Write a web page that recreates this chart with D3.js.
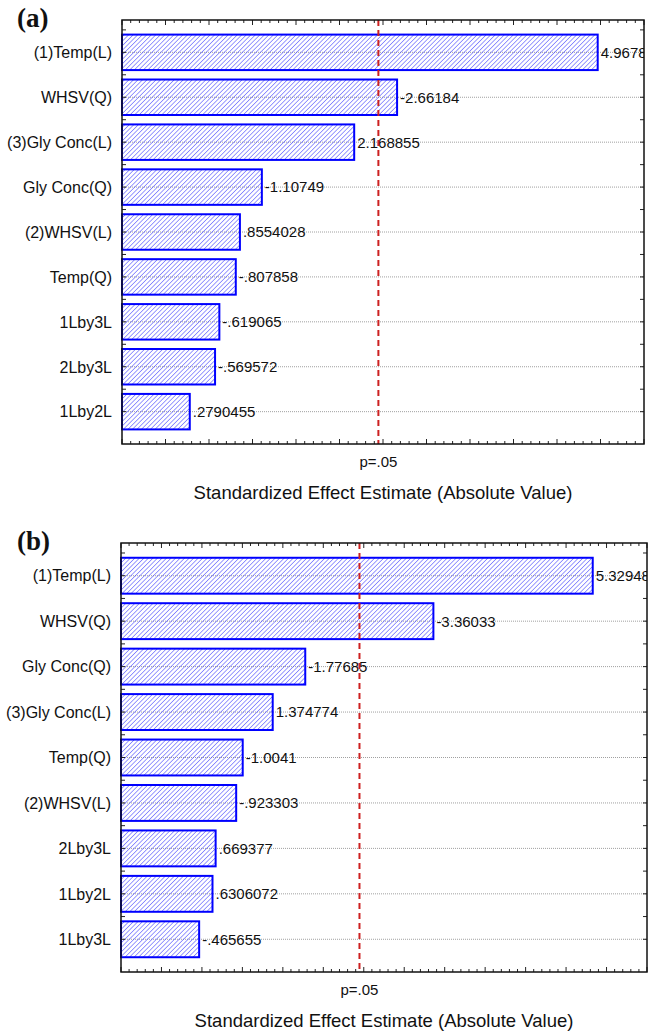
<!DOCTYPE html>
<html>
<head>
<meta charset="utf-8">
<script src="https://cdnjs.cloudflare.com/ajax/libs/d3/7.8.5/d3.min.js"></script>
<style>
  body { margin: 0; background: #fff; }
  svg { display: block; font-family: Arial, "Liberation Sans", sans-serif; }
</style>
</head>
<body>
<div id="chart"></div>
<script>
// ---- data (panel a) ----
var catsA = ["(1)Temp(L)", "WHSV(Q)", "(3)Gly Conc(L)", "Gly Conc(Q)", "(2)WHSV(L)", "Temp(Q)", "1Lby3L", "2Lby3L", "1Lby2L"];
var valsA = [4.96786, 2.66184, 2.168855, 1.10749, 0.8554028, 0.807858, 0.619065, 0.569572, 0.2790455];
var labelsA = ["4.96786", "-2.66184", "2.168855", "-1.10749", ".8554028", "-.807858", "-.619065", "-.569572", ".2790455"];

// ---- data (panel b) ----
var catsB = ["(1)Temp(L)", "WHSV(Q)", "Gly Conc(Q)", "(3)Gly Conc(L)", "Temp(Q)", "(2)WHSV(L)", "2Lby3L", "1Lby2L", "1Lby3L"];
var valsB = [5.32948, 3.36033, 1.77685, 1.374774, 1.0041, 0.923303, 0.669377, 0.6306072, 0.465655];
var labelsB = ["5.32948", "-3.36033", "-1.77685", "1.374774", "-1.0041", "-.923303", ".669377", ".6306072", "-.465655"];

// critical t value for p=.05
var tCrit = 2.447;

var width = 651, height = 1036;

var svg = d3.select('#chart').append('svg')
	.attr('width', width)
	.attr('height', height);

// hatch pattern for the bars
var defs = svg.append('defs');
defs.append('pattern')
	.attr('id', 'hatch')
	.attr('patternUnits', 'userSpaceOnUse')
	.attr('width', 3.2)
	.attr('height', 3.2)
	.attr('patternTransform', 'rotate(45)')
	.append('line')
	.attr('x1', 0).attr('y1', 0)
	.attr('x2', 0).attr('y2', 3.2)
	.attr('stroke', '#4848ff')
	.attr('stroke-width', 1.1);

const drawPanel = function (id, tag, cats, vals, labels, box, xMax) {

	var x = d3.scaleLinear().domain([-0.5, xMax]).range([box.x0, box.x1]);
	var y = d3.scalePoint().domain(cats).range([box.y0, box.y1]).padding(0.72);
	var step = y.step();
	var barH = step * 0.79;

	var g = svg.append('g');

	defs.append('clipPath').attr('id', 'clip' + id)
		.append('rect')
		.attr('x', box.x0).attr('y', box.y0)
		.attr('width', box.x1 - box.x0).attr('height', box.y1 - box.y0);

	// dotted grid lines through category centers
	g.selectAll('.grid')
		.data(cats)
		.enter().append('line')
		.attr('x1', box.x0).attr('x2', box.x1)
		.attr('y1', function (d) { return y(d); })
		.attr('y2', function (d) { return y(d); })
		.attr('stroke', '#a0a0a0')
		.attr('stroke-width', 1)
		.attr('stroke-dasharray', '1,1');

	// bars
	g.selectAll('.bar')
		.data(vals)
		.enter().append('rect')
		.attr('x', box.x0)
		.attr('y', function (d, i) { return y(cats[i]) - barH / 2; })
		.attr('width', function (d) { return x(d) - box.x0; })
		.attr('height', barH)
		.attr('fill', 'url(#hatch)')
		.attr('stroke', '#0000ff')
		.attr('stroke-width', 2);

	// value labels (clipped at frame)
	g.append('g').attr('clip-path', 'url(#clip' + id + ')')
		.selectAll('text')
		.data(vals)
		.enter().append('text')
		.attr('x', function (d) { return x(d) + 3; })
		.attr('y', function (d, i) { return y(cats[i]); })
		.attr('dy', '0.36em')
		.attr('font-size', 15)
		.attr('fill', '#111')
		.text(function (d, i) { return labels[i]; });

	// category labels
	g.selectAll('.cat')
		.data(cats)
		.enter().append('text')
		.attr('x', box.x0 - 10)
		.attr('y', function (d) { return y(d); })
		.attr('dy', '0.36em')
		.attr('text-anchor', 'end')
		.attr('font-size', 16)
		.attr('fill', '#111')
		.text(function (d) { return d; });

	// p=.05 line
	g.append('line')
		.attr('x1', x(tCrit)).attr('x2', x(tCrit))
		.attr('y1', box.y0).attr('y2', box.y1)
		.attr('stroke', '#cc2020')
		.attr('stroke-width', 2)
		.attr('stroke-dasharray', '6,4');

	g.append('text')
		.attr('x', x(tCrit))
		.attr('y', box.y1 + 23)
		.attr('text-anchor', 'middle')
		.attr('font-size', 15)
		.attr('fill', '#111')
		.text('p=.05');

	// ticks along top and bottom, pointing inward
	var minor = d3.range(-0.5, xMax + 0.001, 0.1);
	minor.forEach(function (v) {
		var isMajor = Math.abs(v * 2 - Math.round(v * 2)) < 1e-6;
		var len = isMajor ? 5 : 3;
		g.append('line')
			.attr('x1', x(v)).attr('x2', x(v))
			.attr('y1', box.y1).attr('y2', box.y1 - len)
			.attr('stroke', '#222').attr('stroke-width', 1);
		g.append('line')
			.attr('x1', x(v)).attr('x2', x(v))
			.attr('y1', box.y0).attr('y2', box.y0 + len)
			.attr('stroke', '#222').attr('stroke-width', 1);
	});

	// ticks along left and right
	cats.forEach(function (c) {
		[y(c), y(c) - step / 2].forEach(function (yy) {
			g.append('line').attr('x1', box.x0).attr('x2', box.x0 + 4)
				.attr('y1', yy).attr('y2', yy).attr('stroke', '#222');
			g.append('line').attr('x1', box.x1).attr('x2', box.x1 - 4)
				.attr('y1', yy).attr('y2', yy).attr('stroke', '#222');
		});
	});

	// frame
	g.append('rect')
		.attr('x', box.x0).attr('y', box.y0)
		.attr('width', box.x1 - box.x0).attr('height', box.y1 - box.y0)
		.attr('fill', 'none')
		.attr('stroke', '#111')
		.attr('stroke-width', 1.5);

	// axis title
	g.append('text')
		.attr('x', (box.x0 + box.x1) / 2)
		.attr('y', box.y1 + 55)
		.attr('text-anchor', 'middle')
		.attr('font-size', 18.5)
		.attr('fill', '#111')
		.text('Standardized Effect Estimate (Absolute Value)');

	// panel tag
	g.append('text')
		.attr('x', 17)
		.attr('y', box.y0 + 7)
		.attr('font-family', '"Liberation Serif", "Times New Roman", serif')
		.attr('font-weight', 'bold')
		.attr('font-size', 27)
		.attr('fill', '#111')
		.text(tag);
};

drawPanel('a', '(a)', catsA, valsA, labelsA, { x0: 122, x1: 644, y0: 20, y1: 444 }, 5.5);
drawPanel('b', '(b)', catsB, valsB, labelsB, { x0: 121, x1: 647, y0: 543, y1: 972 }, 6.0);
</script>
</body>
</html>
